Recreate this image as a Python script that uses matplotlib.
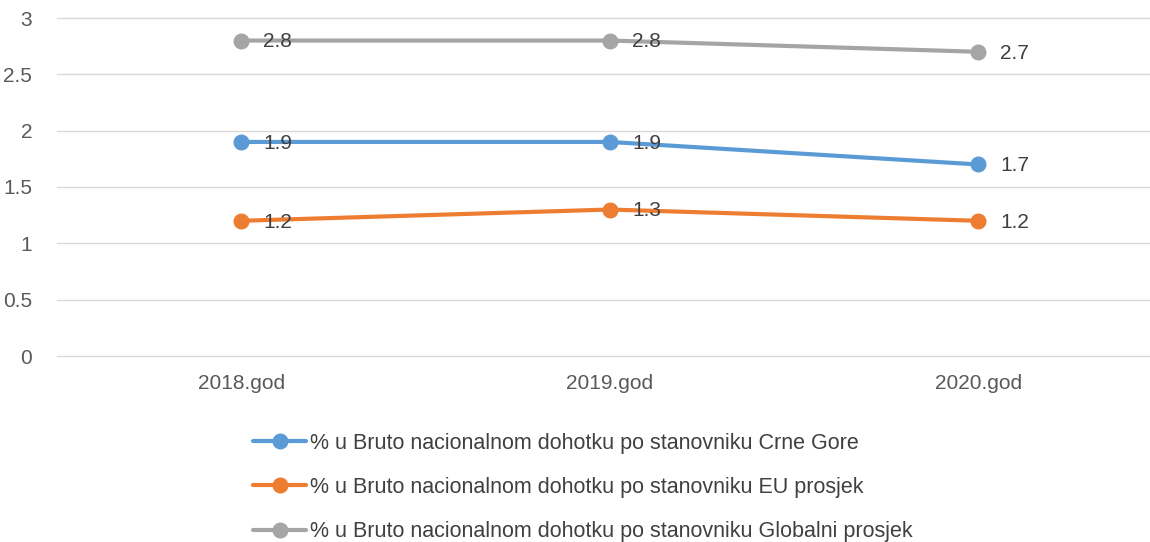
import matplotlib.pyplot as plt

plt.rcParams['font.family'] = ['Liberation Sans', 'DejaVu Sans']

years = ["2018.god", "2019.god", "2020.god"]
crna_gora = [1.9, 1.9, 1.7]
eu_prosjek = [1.2, 1.3, 1.2]
globalni = [2.8, 2.8, 2.7]

series = [
    ("% u Bruto nacionalnom dohotku po stanovniku Crne Gore", crna_gora, "#5B9BD5"),
    ("% u Bruto nacionalnom dohotku po stanovniku EU prosjek", eu_prosjek, "#ED7D31"),
    ("% u Bruto nacionalnom dohotku po stanovniku Globalni prosjek", globalni, "#A5A5A5"),
]

fig = plt.figure(figsize=(11.5, 5.42), dpi=100)
ax = fig.add_axes([57 / 1150, 1 - 356 / 542, 1105.5 / 1150, 338 / 542])

x = range(len(years))
for label, vals, color in series:
    ax.plot(x, vals, color=color, lw=3, marker="o", ms=10.5, label=label,
            solid_capstyle="round", zorder=3)
    for xi, v in zip(x, vals):
        ax.annotate(f"{v:g}", (xi, v), xytext=(16, -1), textcoords="offset points",
                    va="center", ha="left", fontsize=15, color="#404040", zorder=4)

ax.set_xlim(-0.5, 2.5)
ax.set_ylim(0, 3)
ax.set_yticks([0, 0.5, 1, 1.5, 2, 2.5, 3])
ax.set_yticklabels(["0", "0.5", "1", "1.5", "2", "2.5", "3"])
ax.set_xticks(list(x))
ax.set_xticklabels(years)
ax.tick_params(length=0, labelsize=15, labelcolor="#595959")
ax.tick_params(axis="y", pad=18)
ax.tick_params(axis="x", pad=13)
ax.grid(axis="y", color="#D9D9D9", lw=1)
for gl in ax.get_ygridlines():
    gl.set_clip_on(False)
ax.set_axisbelow(True)
for s in ax.spines.values():
    s.set_visible(False)

fig.legend(loc="upper left", bbox_to_anchor=(244 / 1150, 1 - 424 / 542),
           frameon=False, fontsize=15.5, handlelength=2.5, handletextpad=0.15,
           labelspacing=1.08, labelcolor="#404040", borderaxespad=0)

fig.savefig("out.png", dpi=100)
